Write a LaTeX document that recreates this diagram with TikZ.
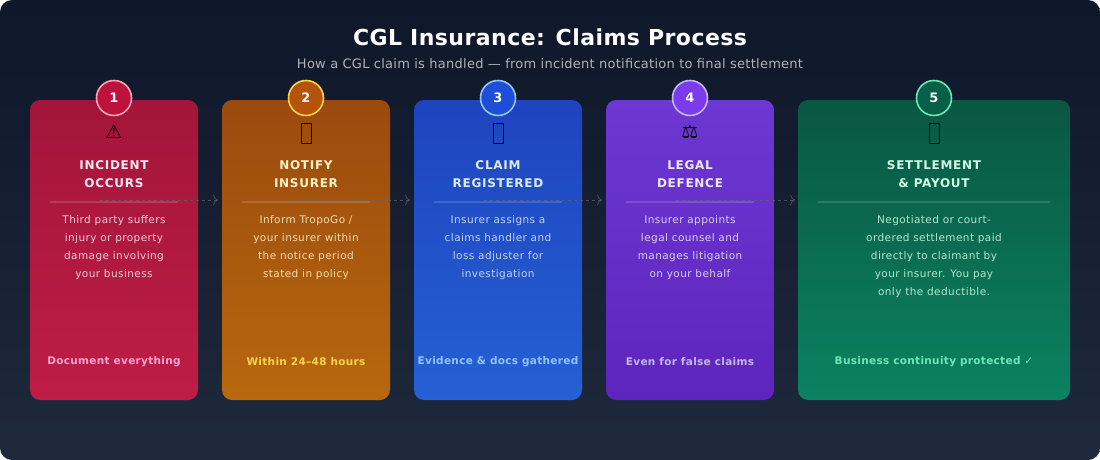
\documentclass[tikz,border=0pt]{standalone}
\usepackage{fontspec}
\setmainfont{DejaVu Sans}
\usetikzlibrary{arrows.meta}
\definecolor{bgA}{HTML}{0F172A}
\definecolor{bgB}{HTML}{1E293B}
\definecolor{cAt}{HTML}{A3153A}\definecolor{cAb}{HTML}{BE1D45}\definecolor{cAc}{HTML}{BE123C}\definecolor{cAs}{HTML}{FDA4AF}
\definecolor{cAh}{HTML}{FCE7F3}\definecolor{cAf}{HTML}{F9A8D4}
\definecolor{cBt}{HTML}{9A4A0E}\definecolor{cBb}{HTML}{B8680E}\definecolor{cBc}{HTML}{B45309}\definecolor{cBs}{HTML}{FCD34D}
\definecolor{cBh}{HTML}{FEF3C7}\definecolor{cBf}{HTML}{FCD34D}
\definecolor{cCt}{HTML}{1E44BE}\definecolor{cCb}{HTML}{2560D4}\definecolor{cCc}{HTML}{1D4ED8}\definecolor{cCs}{HTML}{93C5FD}
\definecolor{cCh}{HTML}{DBEAFE}\definecolor{cCf}{HTML}{93C5FD}
\definecolor{cDt}{HTML}{6C37D2}\definecolor{cDb}{HTML}{5E25BD}\definecolor{cDc}{HTML}{7C3AED}\definecolor{cDs}{HTML}{C4B5FD}
\definecolor{cDh}{HTML}{EDE9FE}\definecolor{cDf}{HTML}{C4B5FD}
\definecolor{cEt}{HTML}{0A5743}\definecolor{cEb}{HTML}{0B8261}\definecolor{cEc}{HTML}{065F46}\definecolor{cEs}{HTML}{6EE7B7}
\definecolor{cEh}{HTML}{D1FAE5}\definecolor{cEf}{HTML}{6EE7B7}
\tikzstyle{card} = [rounded corners=10pt, draw=none]
\tikzstyle{badge} = [circle, minimum size=35pt, line width=1.6pt, text=white, font=\fontsize{13}{13}\selectfont\bfseries, inner sep=0pt]
\tikzstyle{head} = [align=center, font=\fontsize{12}{18}\selectfont\bfseries\addfontfeatures{LetterSpace=6}]
\tikzstyle{body} = [align=center, text opacity=0.85, font=\fontsize{10.5}{18}\selectfont\addfontfeatures{LetterSpace=4}]
\tikzstyle{foot} = [font=\fontsize{10.5}{12}\selectfont\bfseries\addfontfeatures{LetterSpace=3}]
\tikzstyle{icon} = [font=\fontsize{19}{19}\selectfont, text=black]
\tikzstyle{tofu} = [draw=black, line width=0.8pt, minimum width=10pt, minimum height=20pt, inner sep=0pt]
\tikzstyle{arrow} = [gray!70!bgB, opacity=0.7, thick, dashed, -{To[length=5pt]}]
\begin{document}
\begin{tikzpicture}[x=1pt, y=-1pt]
  \useasboundingbox (0,0) rectangle (1100,460);
  \shade[rounded corners=12pt, left color=bgA, right color=bgB, shading angle=0] (0,0) rectangle (1100,460);

  \node (title) [text=white, font=\fontsize{22}{22}\selectfont\bfseries\addfontfeatures{LetterSpace=2}] at (550,37) {CGL Insurance: Claims Process};
  \node (subtitle) [text=gray!60, font=\fontsize{13}{13}\selectfont\addfontfeatures{LetterSpace=2}] at (550,64) {How a CGL claim is handled — from incident notification to final settlement};

  % cards
  \foreach \k/\xa/\xb/\num/\ttl/\txt/\ft in {
      A/30/198/1/{INCIDENT\\OCCURS}/{Third party suffers\\injury or property\\damage involving\\your business}/{Document everything},
      B/222/390/2/{NOTIFY\\INSURER}/{Inform TropoGo /\\your insurer within\\the notice period\\stated in policy}/{Within 24–48 hours},
      C/414/582/3/{CLAIM\\REGISTERED}/{Insurer assigns a\\claims handler and\\loss adjuster for\\investigation}/{Evidence \& docs gathered},
      D/606/774/4/{LEGAL\\DEFENCE}/{Insurer appoints\\legal counsel and\\manages litigation\\on your behalf}/{Even for false claims},
      E/798/1070/5/{SETTLEMENT\\\& PAYOUT}/{Negotiated or court-\\ordered settlement paid\\directly to claimant by\\your insurer. You pay\\only the deductible.}/{Business continuity protected ✓}} {
    \shade[card, top color=c\k t, bottom color=c\k b] (\xa,100) rectangle (\xb,400);
    \pgfmathsetmacro{\xm}{(\xa+\xb)/2}
    \draw[white, opacity=0.15, line width=1.2pt] (\xa+20,202) -- (\xb-20,202);
    \node (card\k-head) [head, text=c\k h, anchor=north] at (\xm,157) {\ttl};
    \node (card\k-body) [body, text=c\k h, anchor=north] at (\xm,212) {\txt};
    \node (card\k-foot) [foot, text=c\k f] at (\xm,362) {\ft};
  }
  % icons
  \node (iconA) [icon] at (114,132) {⚠};
  \node (iconB) [tofu] at (306,133) {};
  \node (iconC) [tofu] at (498,133) {};
  \node (iconD) [icon] at (690,132) {⚖};
  \node (iconE) [tofu] at (934,133) {};

  % connectors
  \coordinate (tA) at (100,200); \coordinate (hA) at (218,200);
  \coordinate (tB) at (292,200); \coordinate (hB) at (410,200);
  \coordinate (tC) at (484,200); \coordinate (hC) at (602,200);
  \coordinate (tD) at (676,200); \coordinate (hD) at (795,200);
  \draw[arrow] (tA) -- (hA);
  \draw[arrow] (tB) -- (hB);
  \draw[arrow] (tC) -- (hC);
  \draw[arrow] (tD) -- (hD);

  % badges
  \node (badge1) [badge, fill=cAc, draw=cAs] at (114,98) {1};
  \node (badge2) [badge, fill=cBc, draw=cBs] at (306,98) {2};
  \node (badge3) [badge, fill=cCc, draw=cCs] at (498,98) {3};
  \node (badge4) [badge, fill=cDc, draw=cDs] at (690,98) {4};
  \node (badge5) [badge, fill=cEc, draw=cEs] at (934,98) {5};
\end{tikzpicture}
\end{document}
